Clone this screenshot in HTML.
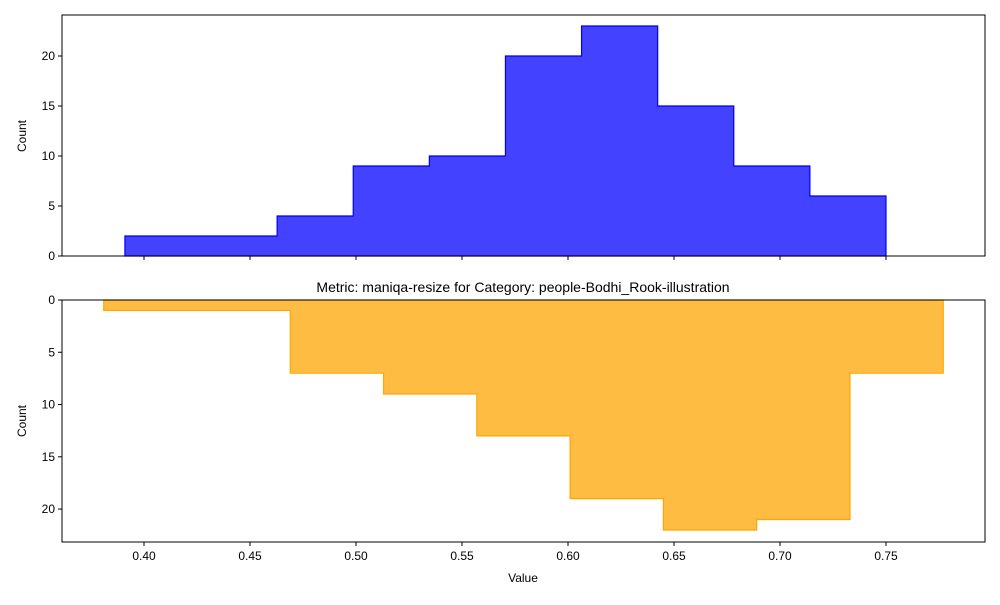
<!DOCTYPE html>
<html><head><meta charset="utf-8"><style>
body{margin:0;background:#fff;font-family:"Liberation Sans",sans-serif;}
svg text{font-family:"Liberation Sans",sans-serif;fill:#000;}
</style></head><body>
<svg id="chart" width="1000" height="600"></svg>
<script>
const topCounts=[2,2,4,9,10,20,23,15,9,6];
const topMin=0.391, topMax=0.75;
const botCounts=[1,1,7,9,13,19,22,21,7];
const botMin=0.381, botMax=0.777;
const xTicks=[0.40,0.45,0.50,0.55,0.60,0.65,0.70,0.75];
const topYTicks=[0,5,10,15,20];
const botYTicks=[0,5,10,15,20];
const titleText="Metric: maniqa-resize for Category: people-Bodhi_Rook-illustration";

const NS="http://www.w3.org/2000/svg";
const svg=document.getElementById('chart');
function mk(t,a,p){const e=document.createElementNS(NS,t);for(const k in a)e.setAttribute(k,a[k]);(p||svg).appendChild(e);return e;}
const L=62,R=985;
const xMin=0.36132,xMax=0.7967;
const x=v=>L+(v-xMin)/(xMax-xMin)*(R-L);
const T1=15,B1=256,topYMax=24.1;
const yTop=v=>B1-v/topYMax*(B1-T1);
const T2=300,B2=542,botYMax=23.15;
const yBot=v=>T2+v/botYMax*(B2-T2);

function stepPath(counts,mn,mx,yf,base){
  const w=(mx-mn)/counts.length;
  let d=`M${x(mn)},${base}`;
  counts.forEach((c,i)=>{d+=` L${x(mn+i*w)},${yf(c)} L${x(mn+(i+1)*w)},${yf(c)}`;});
  d+=` L${x(mx)},${base} Z`;
  return d;
}
const h1=mk('path',{d:stepPath(topCounts,topMin,topMax,yTop,B1),fill:'rgba(0,0,255,0.74)',stroke:'#0000ff','stroke-width':1.2});


const h2=mk('path',{d:stepPath(botCounts,botMin,botMax,yBot,T2),fill:'rgba(255,165,0,0.74)',stroke:'#ffa500','stroke-width':1.2});



const f1=mk('rect',{x:L,y:T1,width:R-L,height:B1-T1,fill:'none',stroke:'#000','stroke-width':1});


const f2=mk('rect',{x:L,y:T2,width:R-L,height:B2-T2,fill:'none',stroke:'#000','stroke-width':1});



xTicks.forEach(v=>{
  mk('line',{x1:x(v),x2:x(v),y1:B1,y2:B1+4,stroke:'#000'});
  mk('line',{x1:x(v),x2:x(v),y1:B2,y2:B2+4,stroke:'#000'});
  const t=mk('text',{x:x(v),y:B2+18,'text-anchor':'middle','font-size':12});
  t.textContent=v.toFixed(2);
  
  
});
topYTicks.forEach(v=>{
  mk('line',{x1:L-4,x2:L,y1:yTop(v),y2:yTop(v),stroke:'#000'});
  const t=mk('text',{x:L-7,y:yTop(v)+4,'text-anchor':'end','font-size':12});
  t.textContent=v;
  
  
});
botYTicks.forEach(v=>{
  mk('line',{x1:L-4,x2:L,y1:yBot(v),y2:yBot(v),stroke:'#000'});
  const t=mk('text',{x:L-7,y:yBot(v)+4,'text-anchor':'end','font-size':12});
  t.textContent=v;
  
  
});
let t=mk('text',{x:26,y:136,'text-anchor':'middle','font-size':12,transform:'rotate(-90 26 136)'});t.textContent='Count';


t=mk('text',{x:26,y:421,'text-anchor':'middle','font-size':12,transform:'rotate(-90 26 421)'});t.textContent='Count';


t=mk('text',{x:523,y:582,'text-anchor':'middle','font-size':12});t.textContent='Value';


t=mk('text',{x:523,y:292,'text-anchor':'middle','font-size':14});t.textContent=titleText;


</script>
</body></html>
